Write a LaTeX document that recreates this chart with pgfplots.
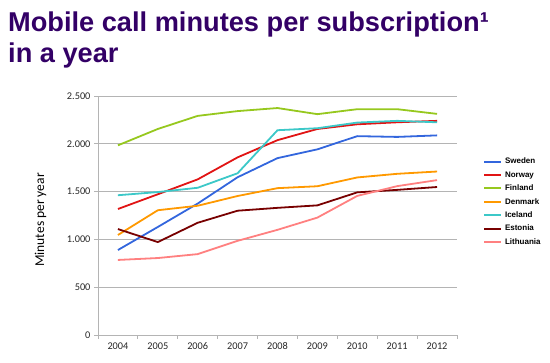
\documentclass[border=0pt]{standalone}
\usepackage{pgfplots}
\pgfplotsset{compat=1.18}
\usepackage{fontspec}
\setmainfont{Liberation Sans}
\newfontfamily\carlito{Carlito}
\definecolor{titlec}{RGB}{51,0,102}
\definecolor{cSweden}{RGB}{51,102,221}
\definecolor{cNorway}{RGB}{225,20,20}
\definecolor{cFinland}{RGB}{150,200,30}
\definecolor{cDenmark}{RGB}{255,153,0}
\definecolor{cIceland}{RGB}{60,200,200}
\definecolor{cEstonia}{RGB}{120,0,0}
\definecolor{cLithuania}{RGB}{255,128,128}
\definecolor{gridc}{RGB}{180,180,180}
\pgfplotsset{myline/.style={line width=1.8pt}}
\begin{document}
\begin{tikzpicture}
\useasboundingbox (0pt,0pt) rectangle (550pt,363pt);
\node[anchor=base west, font=\fontsize{27.2}{30}\selectfont\bfseries, text=titlec, inner sep=0pt] at (8pt,331pt) {Mobile call minutes per subscription¹};
\node[anchor=base west, font=\fontsize{27.2}{30}\selectfont\bfseries, text=titlec, inner sep=0pt] at (8pt,300pt) {in a year};
\begin{axis}[
  at={(98pt,28pt)}, anchor=south west,
  scale only axis, width=359pt, height=239pt,
  xmin=2003.5, xmax=2012.5, ymin=0, ymax=2500,
  axis x line*=bottom, axis y line*=left,
  axis line style={gridc, line width=0.8pt},
  xtick={2004,...,2012},
  xticklabels={2004,2005,2006,2007,2008,2009,2010,2011,2012},
  minor xtick={2003.5,2004.5,...,2012.5},
  major tick length=0pt,
  minor tick length=4pt,
  tick align=outside,
  every minor tick/.style={gridc, line width=0.8pt},
  ytick={0,500,...,2500},
  extra y ticks={0,500,...,2500}, extra y tick labels={},
  extra y tick style={major tick length=4pt, tick style={gridc, line width=0.8pt}, grid=none},
  ymajorgrids, grid style={gridc, line width=0.8pt},
  scaled y ticks=false,
  /pgf/number format/1000 sep={.},
  /pgf/number format/assume math mode=true,
  tick label style={font=\carlito\fontsize{10.3}{12}\selectfont, text=black!85},
  xticklabel style={yshift=-4pt},
  yticklabel style={xshift=-4pt},
  ylabel={Minutes per year},
  ylabel style={at={(axis description cs:-0.16,0.481)}, anchor=center, font=\carlito\fontsize{13.5}{15}\selectfont},
  legend cell align=left,
  legend style={at={(axis description cs:1.072,0.742)}, anchor=north west, draw=none, fill=none,
    inner sep=0pt, row sep=5.9pt, column sep=3pt,
    font=\fontsize{8}{9}\selectfont\bfseries,
    nodes={inner sep=0pt, text height=6pt, text depth=1.5pt}},
  legend image post style={line width=2pt},
  legend image code/.code={\draw[#1] (0pt,0pt) -- (17pt,0pt);},
]
\addplot[cSweden, myline] coordinates {(2004,889) (2005,1130) (2006,1375) (2007,1650) (2008,1850) (2009,1942) (2010,2080) (2011,2072) (2012,2088)};
\addlegendentry{Sweden}
\addplot[cNorway, myline] coordinates {(2004,1318) (2005,1472) (2006,1628) (2007,1858) (2008,2038) (2009,2155) (2010,2204) (2011,2225) (2012,2240)};
\addlegendentry{Norway}
\addplot[cFinland, myline] coordinates {(2004,1984) (2005,2155) (2006,2292) (2007,2342) (2008,2374) (2009,2310) (2010,2362) (2011,2362) (2012,2313)};
\addlegendentry{Finland}
\addplot[cDenmark, myline] coordinates {(2004,1046) (2005,1305) (2006,1352) (2007,1454) (2008,1536) (2009,1556) (2010,1648) (2011,1686) (2012,1710)};
\addlegendentry{Denmark}
\addplot[cIceland, myline] coordinates {(2004,1462) (2005,1495) (2006,1540) (2007,1692) (2008,2142) (2009,2163) (2010,2222) (2011,2240) (2012,2225)};
\addlegendentry{Iceland}
\addplot[cEstonia, myline] coordinates {(2004,1108) (2005,972) (2006,1174) (2007,1300) (2008,1330) (2009,1356) (2010,1492) (2011,1518) (2012,1548)};
\addlegendentry{Estonia}
\addplot[cLithuania, myline] coordinates {(2004,785) (2005,805) (2006,846) (2007,985) (2008,1100) (2009,1228) (2010,1455) (2011,1557) (2012,1620)};
\addlegendentry{Lithuania}
\end{axis}
\end{tikzpicture}
\end{document}
